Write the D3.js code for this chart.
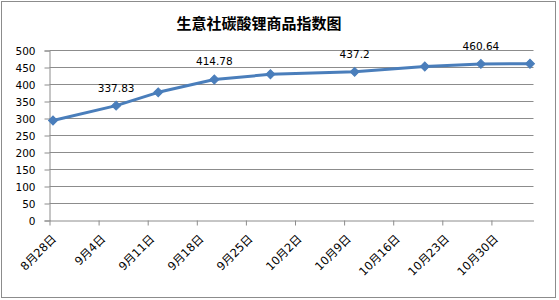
<!DOCTYPE html>
<html>
  <head>
    <meta charset="utf-8">
    <title>生意社碳酸锂商品指数图</title>
    <style>
      body { margin: 0; background: #fff; }
    </style>
  </head>
  <body>
    <script src="https://cdn.jsdelivr.net/npm/d3@7/dist/d3.min.js"></script>
    <script type="text/javascript">
      // data
      var dates = ["2022-08-28", "2022-09-06", "2022-09-12", "2022-09-20", "2022-09-28",
                   "2022-10-10", "2022-10-20", "2022-10-28", "2022-11-04"];
      var values = [294, 337.83, 377, 414.78, 430, 437.2, 453, 460.64, 461];
      var shownLabels = [1, 3, 5, 7];
      var tickDates = ["2022-08-28", "2022-09-04", "2022-09-11", "2022-09-18", "2022-09-25",
                       "2022-10-02", "2022-10-09", "2022-10-16", "2022-10-23", "2022-10-30"];
      var tickLabels = ["8月28日", "9月4日", "9月11日", "9月18日", "9月25日",
                        "10月2日", "10月9日", "10月16日", "10月23日", "10月30日"];
      var yTicks = [0, 50, 100, 150, 200, 250, 300, 350, 400, 450, 500];
      var title = "生意社碳酸锂商品指数图";

      var width = 559, height = 300;
      var parse = d3.utcParse("%Y-%m-%d");
      var day = 864e5;

      var svg = d3.select("body").append("svg")
                  .attr("width", width)
                  .attr("height", height);

      // outer frame
      svg.append("rect")
         .attr("x", 1.5).attr("y", 1.5)
         .attr("width", 554).attr("height", 296)
         .attr("fill", "#fff")
         .attr("stroke", "#8c8c8c");

      svg.append("text")
         .attr("x", 259).attr("y", 29)
         .attr("text-anchor", "middle")
         .attr("font-family", "Noto Sans CJK SC")
         .attr("font-weight", "bold")
         .attr("font-size", 15)
         .text(title);

      var first = parse(dates[0]);
      var last = parse(dates[dates.length - 1]);
      var xScale = d3.scaleUtc()
                     .domain([first, new Date(+last + day)])
                     .range([49.5, 533.5]);

      var yScale = d3.scaleLinear()
                     .domain([0, 500])
                     .range([220.5, 50.5]);

      // grid
      svg.append("g")
         .selectAll("line")
         .data(yTicks.slice(1))
         .enter().append("line")
         .attr("x1", 49.5).attr("x2", 533.5)
         .attr("y1", function(d) { return yScale(d); })
         .attr("y2", function(d) { return yScale(d); })
         .attr("stroke", "#8c8c8c");

      var yAxis = d3.axisLeft(yScale)
                    .tickValues(yTicks)
                    .tickSize(5)
                    .tickPadding(9);
      var gy = svg.append("g").attr("transform", "translate(49.5,0)").call(yAxis);
      gy.attr("font-family", "DejaVu Sans").attr("font-size", 10.5);
      gy.selectAll("path, line").attr("stroke", "#8c8c8c");
      gy.selectAll("text").attr("fill", "#000").attr("dy", "0.35em");

      var xAxis = d3.axisBottom(xScale)
                    .tickValues(tickDates.map(parse))
                    .tickSize(5)
                    .tickSizeOuter(0)
                    .tickFormat(function(d, i) { return tickLabels[i]; });
      var gx = svg.append("g").attr("transform", "translate(0,220.5)").call(xAxis);
      gx.selectAll("path, line").attr("stroke", "#8c8c8c");
      gx.selectAll("text")
        .attr("font-family", "DejaVu Sans, Noto Sans CJK SC")
        .attr("font-size", 11.5)
        .attr("fill", "#000")
        .attr("text-anchor", "end")
        .attr("y", 0).attr("dy", 0)
        .attr("transform", "translate(7,19) rotate(-45)");

      var pts = dates.map(function(d, i) {
        return { x: xScale(new Date(+parse(d) + day / 2)), y: yScale(values[i]), v: values[i] };
      });

      var line = d3.line()
                   .x(function(d) { return d.x; })
                   .y(function(d) { return d.y; });

      svg.append("path")
         .attr("d", line(pts))
         .attr("fill", "none")
         .attr("stroke", "#4a7ebb")
         .attr("stroke-width", 3)
         .attr("stroke-linejoin", "round")
         .attr("stroke-linecap", "round");

      svg.append("g")
         .selectAll("path")
         .data(pts)
         .enter().append("path")
         .attr("d", d3.symbol().type(d3.symbolSquare).size(40))
         .attr("transform", function(d) { return "translate(" + d.x + "," + d.y + ") rotate(45)"; })
         .attr("fill", "#4a7ebb")
         .attr("stroke", "#4a7ebb");

      svg.append("g")
         .selectAll("text")
         .data(shownLabels.map(function(i) { return pts[i]; }))
         .enter().append("text")
         .attr("x", function(d) { return d.x; })
         .attr("y", function(d) { return d.y - 14; })
         .attr("text-anchor", "middle")
         .attr("font-family", "DejaVu Sans")
         .attr("font-size", 10.5)
         .text(function(d) { return d.v; });
    </script>
  </body>
</html>
